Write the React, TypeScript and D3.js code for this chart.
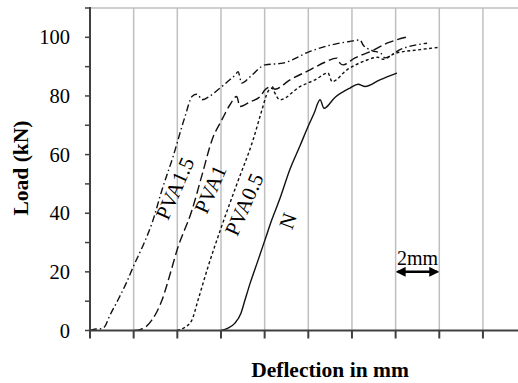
import { useMemo } from "react";
import * as d3 from "d3";

type Pt = [number, number];

// deflection (mm), load (kN)
const pva15: Pt[] = [
    [0, 0], [0.27, 0.5], [0.5, 0.6], [0.69, 1.5], [0.87, 4.5], [1.28, 10.4], [1.65, 16],
    [2.02, 22.4], [2.43, 29], [2.84, 36.6], [3.3, 48], [3.8, 59.2], [4.35, 72.9], [4.67, 79.8],
    [4.86, 80.6], [4.95, 80.4], [5.13, 78.7], [5.5, 80], [5.86, 82.1], [6.32, 85], [6.69, 87.5],
    [6.78, 88.3], [6.95, 84.4], [7.33, 86.5], [8.02, 90.6], [8.84, 91.2], [10.08, 95.2],
    [10.99, 97.3], [11.91, 98.6], [12.37, 99.1], [12.51, 97.4], [12.92, 95.5], [13.33, 94.5],
    [13.51, 93], [14.2, 95.8], [15.44, 98],
];
const pva1: Pt[] = [
    [2.02, 0], [2.29, 0.3], [2.47, 0.8], [2.84, 3.6], [3.07, 6.5], [3.3, 10.4], [3.66, 19],
    [3.99, 27.5], [4.67, 41], [5.13, 53], [5.59, 65], [6.05, 72], [6.41, 77], [6.72, 79.8],
    [6.87, 76.4], [7.33, 78], [7.79, 79.8], [8.02, 82.1], [8.32, 83.2], [8.47, 82.3],
    [9.16, 85.5], [10.08, 88.9], [10.76, 91.5], [11.31, 92.9], [11.45, 91.2], [11.59, 90.6],
    [12.14, 93], [12.96, 95.5], [13.6, 98], [14.11, 99.3], [14.57, 100.2],
];
const pva05: Pt[] = [
    [3.99, 0], [4.35, 1.1], [4.67, 3.6], [4.95, 10.4], [5.41, 21.8], [6.0, 34.9], [6.73, 50],
    [7.47, 65], [7.88, 75.3], [8.15, 81.5], [8.34, 82.7], [8.43, 81.5], [8.7, 78.7],
    [9.62, 83.2], [10.31, 85.5], [10.9, 87.8], [11.09, 84.9], [11.77, 88.9], [12.6, 92],
    [13.19, 93.2], [13.42, 92.5], [13.97, 94.5], [15.12, 95.8], [16.03, 96.6],
];
const plain: Pt[] = [
    [6.0, 0], [6.32, 0.8], [6.64, 2.5], [6.92, 6], [7.1, 10.4], [7.33, 16], [7.7, 24],
    [8.02, 31], [8.34, 38], [8.7, 45], [9.16, 55], [9.62, 63], [9.99, 69.6], [10.26, 74],
    [10.54, 78.7], [10.72, 75.8], [11.22, 79.5], [11.91, 82.7], [12.28, 84], [12.6, 83.2],
    [13.28, 85.5], [14.06, 87.8],
];

const seriesNames = ["PVA1.5", "PVA1", "PVA0.5", "N"];
// label anchor (mm, kN) for each curve name
const labelAt: Pt[] = [[3.88, 48.5], [5.5, 48.2], [7.05, 43], [9.05, 37.4]];

const yTicks = [0, 20, 40, 60, 80, 100];
const gridX = d3.range(0, 22, 2);

const FONT = "'Liberation Serif', 'Times New Roman', serif";

export default function App() {
    const x = d3.scaleLinear().domain([0, 20]).range([90, 526.6]);
    const y = d3.scaleLinear().domain([0, 110]).range([330.5, 8]);

    const line = useMemo(
        () =>
            d3
                .line<Pt>()
                .x((d) => x(d[0]))
                .y((d) => y(d[1]))
                .curve(d3.curveMonotoneX),
        []
    );

    const curves = [
        { data: pva15, dash: "7,3,1.5,3" },
        { data: pva1, dash: "9,4" },
        { data: pva05, dash: "3,2.5" },
        { data: plain, dash: "none" },
    ];

    return (
        <svg width={518} height={383} style={{ position: "absolute", left: 0, top: 0, background: "#fff" }}>
            {/* grid */}
            {gridX.slice(1).map((g) => (
                <line key={g} x1={x(g)} x2={x(g)} y1={y(0)} y2={y(110)} stroke="#bfbfbf" strokeWidth={1.5} />
            ))}
            <line x1={x(0)} x2={518} y1={y(110)} y2={y(110)} stroke="#bfbfbf" strokeWidth={1.5} />

            {/* curves */}
            {curves.map((c, i) => (
                <path key={i} d={line(c.data)!} fill="none" stroke="#111" strokeWidth={1.4} strokeDasharray={c.dash} />
            ))}

            {/* axes */}
            <line x1={x(0)} x2={x(0)} y1={y(0)} y2={y(110) - 1} stroke="#404040" strokeWidth={2} />
            <line x1={x(0) - 1} x2={518} y1={y(0)} y2={y(0)} stroke="#404040" strokeWidth={2} />
            {d3.range(0, 120, 10).map((t) => (
                <line key={t} x1={x(0) - 5} x2={x(0)} y1={y(t)} y2={y(t)} stroke="#404040" strokeWidth={1.5} />
            ))}
            {gridX.map((g) => (
                <line key={g} x1={x(g)} x2={x(g)} y1={y(0)} y2={y(0) + 8} stroke="#404040" strokeWidth={2} />
            ))}
            {yTicks.map((t) => (
                <text key={t} x={70} y={y(t)} dy="0.35em" textAnchor="end" fontFamily={FONT} fontSize={20.5} fill="#000">
                    {t}
                </text>
            ))}

            {/* axis titles */}
            <text
                transform={`translate(28,168) rotate(-90)`}
                textAnchor="middle"
                fontFamily={FONT}
                fontSize={21.5}
                fontWeight="bold"
            >
                Load (kN)
            </text>
            <text x={330} y={377} textAnchor="middle" fontFamily={FONT} fontSize={21.5} fontWeight="bold">
                Deflection in mm
            </text>

            {/* curve names */}
            {seriesNames.map((n, i) => (
                <text
                    key={n}
                    transform={`translate(${x(labelAt[i][0])},${y(labelAt[i][1])}) rotate(${i === 3 ? -70 : -66})`}
                    textAnchor="middle"
                    dy="0.35em"
                    fontFamily={FONT}
                    fontSize={21}
                >
                    {n}
                </text>
            ))}

            {/* 2mm scale marker */}
            <defs>
                <marker id="ah" viewBox="0 0 10 10" refX="8" refY="5" markerWidth="4" markerHeight="4" orient="auto-start-reverse">
                    <path d="M0,0 L10,5 L0,10 z" fill="#000" />
                </marker>
            </defs>
            <line
                x1={x(14) + 2}
                x2={x(16) - 2}
                y1={y(20)}
                y2={y(20)}
                stroke="#000"
                strokeWidth={2.5}
                markerStart="url(#ah)"
                markerEnd="url(#ah)"
            />
            <text x={(x(14) + x(16)) / 2} y={y(22.5)} textAnchor="middle" fontFamily={FONT} fontSize={20}>
                2mm
            </text>
        </svg>
    );
}
